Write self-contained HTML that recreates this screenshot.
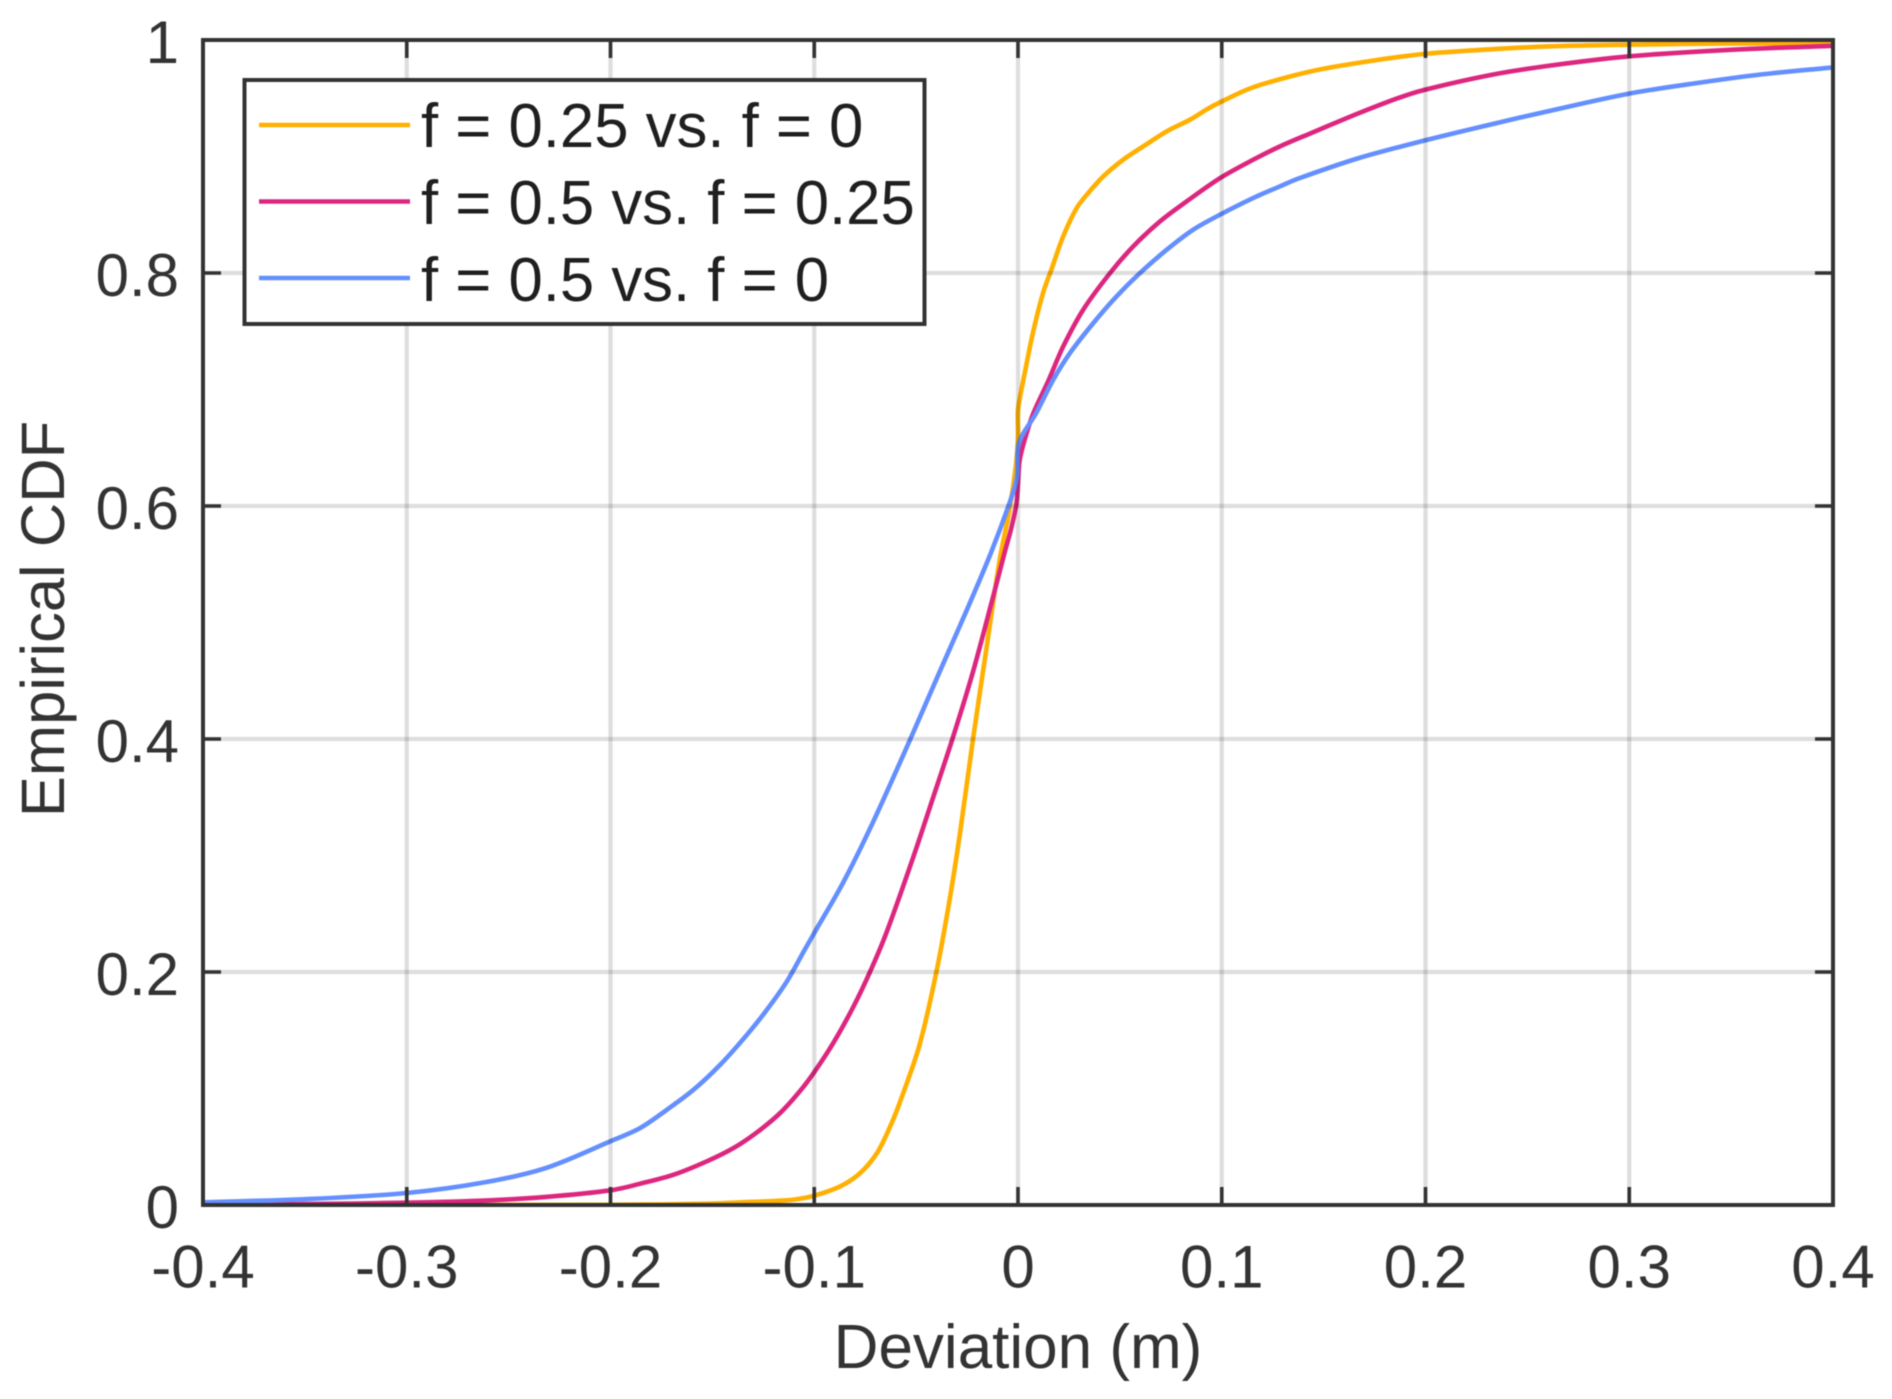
<!DOCTYPE html>
<html lang="en">
<head>
<meta charset="utf-8">
<title>Empirical CDF of deviation</title>
<style>
  html, body { margin: 0; padding: 0; background: #fff; }
  body { width: 1892px; height: 1399px; overflow: hidden; }
  svg { display: block; filter: blur(0.5px); }
  text { font-family: "Liberation Sans", Arial, sans-serif; }
</style>
</head>
<body>
<svg id="chart" xmlns="http://www.w3.org/2000/svg" width="1892" height="1399" viewBox="0 0 1892 1399">
  <defs>
    <clipPath id="plot-clip"><rect x="203" y="40" width="1630" height="1165"></rect></clipPath>
  </defs>
  <rect x="0" y="0" width="1892" height="1399" fill="#ffffff"></rect>
  <g id="series-layer" clip-path="url(#plot-clip)"></g>
  <g id="grid-layer"></g>
  <g id="tick-layer"></g>
  <rect x="203" y="40" width="1630" height="1165" fill="none" stroke="#333333" stroke-width="4"></rect>
  <g id="x-labels" font-size="60" fill="#333333" text-anchor="middle"></g>
  <g id="y-labels" font-size="60" fill="#333333" text-anchor="end"></g>
  <text x="1018" y="1368" font-size="62" fill="#333333" text-anchor="middle">Deviation (m)</text>
  <text transform="translate(64 619) rotate(-90)" font-size="61.5" fill="#333333" text-anchor="middle">Empirical CDF</text>
  <g>
    <rect x="244.5" y="80" width="680" height="244" fill="#ffffff" stroke="#333333" stroke-width="4"></rect>
    <g>
      <line x1="259" y1="125" x2="410" y2="125" stroke="#FFB000" stroke-width="4.5"></line>
      <text x="421" y="147" font-size="61.7" fill="#1f1f1f">f = 0.25 vs. f = 0</text>
    </g>
    <g>
      <line x1="259" y1="201.5" x2="410" y2="201.5" stroke="#DC267F" stroke-width="4.5"></line>
      <text x="421" y="224" font-size="61.7" fill="#1f1f1f">f = 0.5 vs. f = 0.25</text>
    </g>
    <g>
      <line x1="259" y1="278" x2="410" y2="278" stroke="#648FFF" stroke-width="4.5"></line>
      <text x="421" y="301" font-size="61.7" fill="#1f1f1f">f = 0.5 vs. f = 0</text>
    </g>
  </g>
</svg>
<script>
var xTicks = [-0.4, -0.3, -0.2, -0.1, 0, 0.1, 0.2, 0.3, 0.4];
var yTicks = [0, 0.2, 0.4, 0.6, 0.8, 1];
var xTickLabels = ["-0.4", "-0.3", "-0.2", "-0.1", "0", "0.1", "0.2", "0.3", "0.4"];
var yTickLabels = ["0", "0.2", "0.4", "0.6", "0.8", "1"];

var yellowDeviation = [-0.4, -0.2, -0.15, -0.1363, -0.12, -0.1101, -0.1, -0.0872, -0.0774, -0.0692, -0.0627, -0.0578, -0.0483, -0.0401, -0.0336, -0.0286, -0.0221, -0.0155, -0.009, -0.0041, -0.0011, 0, 0, 0.0016, 0.0034, 0.0075, 0.0124, 0.0165, 0.0222, 0.0288, 0.0345, 0.0419, 0.0517, 0.0615, 0.073, 0.0844, 0.0932, 0.0997, 0.114, 0.1316, 0.149, 0.173, 0.199, 0.232, 0.261, 0.3, 0.35, 0.4];
var yellowCdf = [0, 0.0002, 0.0012, 0.0023, 0.0034, 0.0046, 0.008, 0.016, 0.0275, 0.0446, 0.0675, 0.089, 0.1376, 0.1996, 0.2616, 0.3176, 0.3996, 0.4776, 0.5536, 0.5976, 0.634, 0.659, 0.682, 0.699, 0.715, 0.75, 0.7835, 0.8035, 0.8315, 0.8558, 0.8687, 0.883, 0.8973, 0.9087, 0.9216, 0.9316, 0.941, 0.947, 0.9585, 0.9678, 0.975, 0.982, 0.988, 0.992, 0.9946, 0.996, 0.997, 0.9973];

var pinkDeviation = [-0.4, -0.35, -0.3, -0.2616, -0.2318, -0.2, -0.1854, -0.169, -0.1527, -0.1396, -0.1281, -0.1167, -0.1069, -0.1, -0.0905, -0.0807, -0.0725, -0.0646, -0.0516, -0.0417, -0.0319, -0.0221, -0.0123, -0.0065, -0.0033, -0.0008, 0, 0.0008, 0.0033, 0.0074, 0.0149, 0.0222, 0.032, 0.0452, 0.0566, 0.0697, 0.0828, 0.0992, 0.1155, 0.1286, 0.1437, 0.167, 0.1847, 0.199, 0.232, 0.261, 0.3, 0.35, 0.4];
var pinkCdf = [0.0003, 0.0008, 0.002, 0.0038, 0.0069, 0.0126, 0.0183, 0.026, 0.0375, 0.0489, 0.0624, 0.079, 0.098, 0.114, 0.1395, 0.1705, 0.2006, 0.2336, 0.2976, 0.3496, 0.4016, 0.4576, 0.5216, 0.5605, 0.581, 0.602, 0.619, 0.639, 0.657, 0.679, 0.7075, 0.737, 0.7685, 0.8, 0.8229, 0.8443, 0.8615, 0.8815, 0.8973, 0.9087, 0.92, 0.937, 0.949, 0.957, 0.97, 0.978, 0.986, 0.9916, 0.995];

var blueDeviation = [-0.4, -0.35, -0.3, -0.2616, -0.2318, -0.2, -0.1854, -0.1723, -0.1592, -0.1461, -0.133, -0.1232, -0.1134, -0.1052, -0.1, -0.0859, -0.0712, -0.0532, -0.0385, -0.0254, -0.0131, -0.0033, -0.0005, 0.0005, 0.009, 0.0173, 0.0255, 0.037, 0.0484, 0.0599, 0.073, 0.086, 0.0992, 0.1155, 0.1286, 0.1375, 0.167, 0.199, 0.232, 0.261, 0.3, 0.335, 0.365, 0.4];
var blueCdf = [0.0023, 0.005, 0.0103, 0.0195, 0.0317, 0.0547, 0.0661, 0.0818, 0.099, 0.1205, 0.1462, 0.1677, 0.192, 0.2175, 0.2335, 0.2765, 0.3285, 0.3985, 0.4576, 0.5096, 0.5606, 0.607, 0.625, 0.654, 0.68, 0.7084, 0.7313, 0.7571, 0.78, 0.8, 0.82, 0.8372, 0.8501, 0.8644, 0.8744, 0.881, 0.8985, 0.9135, 0.9275, 0.9392, 0.954, 0.9635, 0.9705, 0.9765];

var xDomain = [-0.4, 0.4];
var yDomain = [0, 1];
var plotLeft = 203, plotRight = 1833, plotTop = 40, plotBottom = 1205;
var SVGNS = "http://www.w3.org/2000/svg";

function xScale(v) { return plotLeft + (v - xDomain[0]) / (xDomain[1] - xDomain[0]) * (plotRight - plotLeft); }
function yScale(v) { return plotBottom - (v - yDomain[0]) / (yDomain[1] - yDomain[0]) * (plotBottom - plotTop); }

function lineEl(x1, y1, x2, y2, stroke, width, opacity) {
  var el = document.createElementNS(SVGNS, "line");
  el.setAttribute("x1", x1);
  el.setAttribute("y1", y1);
  el.setAttribute("x2", x2);
  el.setAttribute("y2", y2);
  el.setAttribute("stroke", stroke);
  el.setAttribute("stroke-width", width);
  if (opacity !== undefined) el.setAttribute("stroke-opacity", opacity);
  return el;
}

function smoothPath(xs, ys) {
  var pts = xs.map(function (x, i) { return [xScale(x), yScale(ys[i])]; });
  var tangents = pts.map(function (p, i) {
    var a = pts[Math.max(i - 1, 0)], b = pts[Math.min(i + 1, pts.length - 1)];
    var dx = b[0] - a[0], dy = b[1] - a[1], len = Math.hypot(dx, dy) || 1;
    return [dx / len, dy / len];
  });
  var d = "M" + pts[0][0].toFixed(2) + " " + pts[0][1].toFixed(2);
  for (var i = 1; i < pts.length; i++) {
    var p0 = pts[i - 1], p1 = pts[i];
    var k = Math.hypot(p1[0] - p0[0], p1[1] - p0[1]) * 0.33;
    d += "C" + (p0[0] + tangents[i - 1][0] * k).toFixed(2) + " " + (p0[1] + tangents[i - 1][1] * k).toFixed(2) +
         " " + (p1[0] - tangents[i][0] * k).toFixed(2) + " " + (p1[1] - tangents[i][1] * k).toFixed(2) +
         " " + p1[0].toFixed(2) + " " + p1[1].toFixed(2);
  }
  return d;
}

function drawSeries(xs, ys, color, name) {
  var path = document.createElementNS(SVGNS, "path");
  path.setAttribute("d", smoothPath(xs, ys));
  path.setAttribute("fill", "none");
  path.setAttribute("stroke", color);
  path.setAttribute("stroke-width", "4.6");
  path.setAttribute("stroke-linejoin", "round");
  
  
  document.getElementById("series-layer").appendChild(path);
}

drawSeries(yellowDeviation, yellowCdf, "#FFB000", "series-f025-vs-f0");
drawSeries(pinkDeviation, pinkCdf, "#DC267F", "series-f05-vs-f025");
drawSeries(blueDeviation, blueCdf, "#648FFF", "series-f05-vs-f0");

var gridLayer = document.getElementById("grid-layer");
var tickLayer = document.getElementById("tick-layer");
var xLabels = document.getElementById("x-labels");
var yLabels = document.getElementById("y-labels");
var tickLength = 18;

xTicks.forEach(function (t, i) {
  var px = xScale(t);
  if (i > 0 && i < xTicks.length - 1) {
    var grid = lineEl(px, plotTop, px, plotBottom, "#000000", 4.2, 0.13);
    
    
    gridLayer.appendChild(grid);
    var tickB = lineEl(px, plotBottom, px, plotBottom - tickLength, "#333333", 3.6);
    
    
    tickLayer.appendChild(tickB);
    var tickT = lineEl(px, plotTop, px, plotTop + tickLength, "#333333", 3.6);
    
    
    tickLayer.appendChild(tickT);
  }
  var label = document.createElementNS(SVGNS, "text");
  label.setAttribute("x", px);
  label.setAttribute("y", 1287.5);
  
  
  label.textContent = xTickLabels[i];
  xLabels.appendChild(label);
});

yTicks.forEach(function (t, i) {
  var py = yScale(t);
  if (i > 0 && i < yTicks.length - 1) {
    var grid = lineEl(plotLeft, py, plotRight, py, "#000000", 4.2, 0.13);
    
    
    gridLayer.appendChild(grid);
    var tickL = lineEl(plotLeft, py, plotLeft + tickLength, py, "#333333", 3.6);
    
    
    tickLayer.appendChild(tickL);
    var tickR = lineEl(plotRight, py, plotRight - tickLength, py, "#333333", 3.6);
    
    
    tickLayer.appendChild(tickR);
  }
  var label = document.createElementNS(SVGNS, "text");
  label.setAttribute("x", 179);
  label.setAttribute("y", py + 23);
  
  
  label.textContent = yTickLabels[i];
  yLabels.appendChild(label);
});
</script>
</body>
</html>
